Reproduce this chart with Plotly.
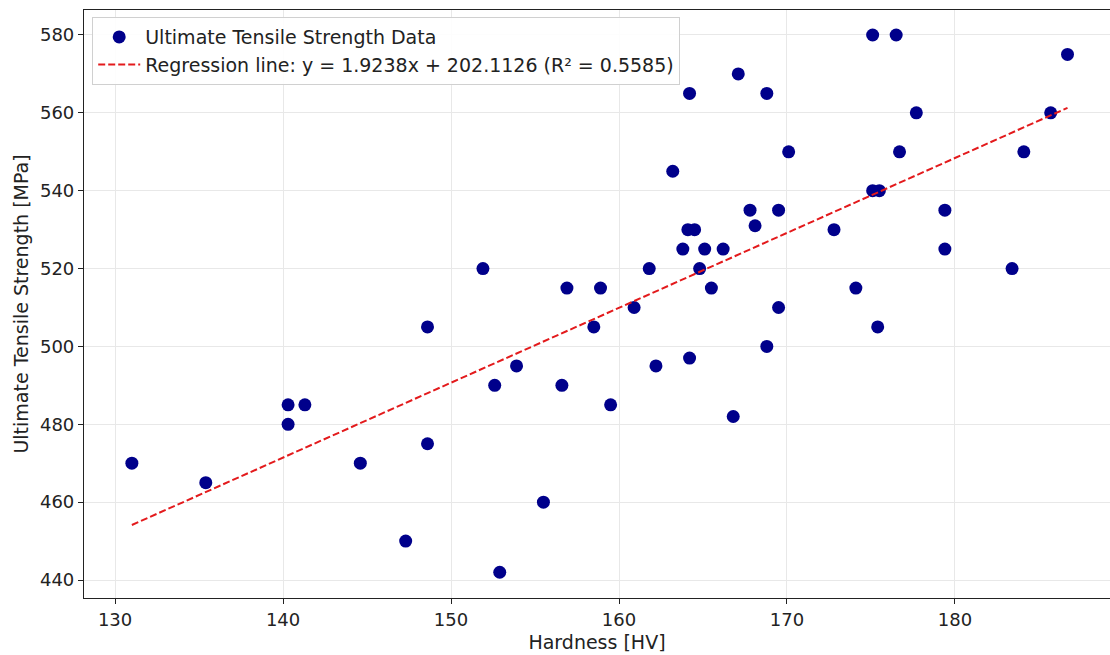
import plotly.graph_objects as go

# Hardness [HV] and ultimate tensile strength [MPa] for each specimen
hardness = [
    131.0, 135.4, 140.3, 140.3, 141.3, 144.6, 147.3, 148.6, 148.6, 151.9,
    152.6, 152.9, 153.9, 155.5, 156.6, 156.9, 158.5, 158.9, 159.5, 160.9,
    161.8, 162.2, 163.2, 163.8, 164.2, 164.1, 164.5, 164.2, 164.8, 165.1,
    165.5, 166.2, 167.1, 166.8, 167.8, 168.1, 168.8, 168.8, 169.5, 169.5,
    170.1, 172.8, 174.1, 175.1, 175.1, 175.5, 175.4, 176.5, 176.7, 177.7,
    179.4, 179.4, 183.4, 184.1, 185.7, 186.7,
]
uts = [
    470, 465, 485, 480, 485, 470, 450, 475, 505, 520,
    490, 442, 495, 460, 490, 515, 505, 515, 485, 510,
    520, 495, 545, 525, 565, 530, 530, 497, 520, 525,
    515, 525, 570, 482, 535, 531, 565, 500, 535, 510,
    550, 530, 515, 580, 540, 540, 505, 580, 550, 560,
    535, 525, 520, 550, 560, 575,
]

# Linear fit coefficients
slope = 1.9238
intercept = 202.1126
r_squared = 0.5585

x_ticks = [130, 140, 150, 160, 170, 180]
y_ticks = [440, 460, 480, 500, 520, 540, 560, 580]

x_lo, x_hi = min(hardness), max(hardness)
fit_x = [x_lo, x_hi]
fit_y = [slope * v + intercept for v in fit_x]

font_family = "DejaVu Sans"
ink = "#222222"

fig = go.Figure()
fig.add_trace(go.Scatter(
    x=hardness, y=uts, mode="markers",
    name="Ultimate Tensile Strength Data",
    marker=dict(color="#00008b", size=13, line=dict(width=0)),
))
fig.add_trace(go.Scatter(
    x=fit_x, y=fit_y, mode="lines",
    name=f"Regression line: y = {slope:.4f}x + {intercept:.4f} (R² = {r_squared:.4f})",
    line=dict(color="#e31a1c", width=2, dash="7px,3px"),
))

axis_common = dict(
    showgrid=True, gridcolor="#e8e8e8", gridwidth=1.3,
    zeroline=False, showline=True, linecolor=ink, linewidth=1.2,
    ticks="outside", ticklen=5, tickwidth=1, tickcolor=ink,
    tickfont=dict(family=font_family, size=18, color=ink),
)

fig.update_layout(
    width=1110, height=655,
    margin=dict(l=84, r=0, t=10, b=57),
    paper_bgcolor="white", plot_bgcolor="white",
    font=dict(family=font_family, size=18, color=ink),
    showlegend=True,
    legend=dict(
        x=0.008, y=0.988, xanchor="left", yanchor="top",
        bgcolor="rgba(255,255,255,0.9)", bordercolor="#d0d0d0", borderwidth=1,
        font=dict(family=font_family, size=19, color=ink),
        itemwidth=42, tracegroupgap=0,
    ),
    xaxis=dict(
        axis_common, range=[128.15, 189.23], tickvals=x_ticks, mirror=True,
        title=dict(text="Hardness [HV]", font=dict(family=font_family, size=19), standoff=6),
    ),
    yaxis=dict(
        axis_common, range=[435.38, 586.42], tickvals=y_ticks,
        title=dict(text="Ultimate Tensile Strength [MPa]", font=dict(family=font_family, size=19), standoff=6),
    ),
)

fig.write_html("out.html")
